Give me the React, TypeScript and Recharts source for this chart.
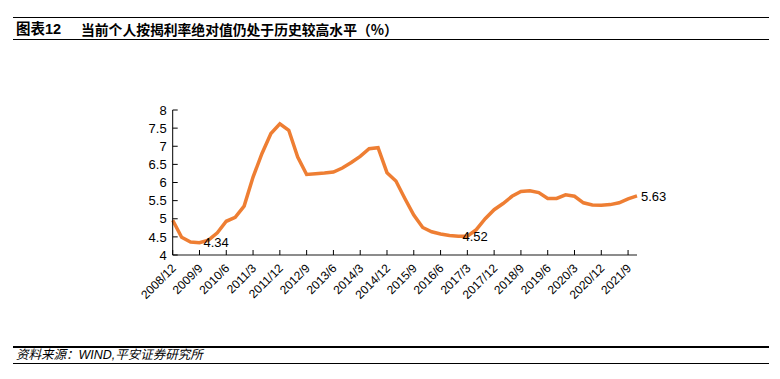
import React from 'react';
import { LineChart, Line, XAxis, YAxis, LabelList } from 'recharts';

const dates = [
  '2008/12',
  '2009/3', '2009/6', '2009/9', '2009/12',
  '2010/3', '2010/6', '2010/9', '2010/12',
  '2011/3', '2011/6', '2011/9', '2011/12',
  '2012/3', '2012/6', '2012/9', '2012/12',
  '2013/3', '2013/6', '2013/9', '2013/12',
  '2014/3', '2014/6', '2014/9', '2014/12',
  '2015/3', '2015/6', '2015/9', '2015/12',
  '2016/3', '2016/6', '2016/9', '2016/12',
  '2017/3', '2017/6', '2017/9', '2017/12',
  '2018/3', '2018/6', '2018/9', '2018/12',
  '2019/3', '2019/6', '2019/9', '2019/12',
  '2020/3', '2020/6', '2020/9', '2020/12',
  '2021/3', '2021/6', '2021/9', '2021/12',
];

const rates = [
  4.96,
  4.49, 4.36, 4.34, 4.41,
  4.61, 4.93, 5.04, 5.35,
  6.15, 6.8, 7.35, 7.62,
  7.44, 6.7, 6.22, 6.24,
  6.26, 6.29, 6.4, 6.55,
  6.72, 6.93, 6.96, 6.27,
  6.04, 5.56, 5.1, 4.76,
  4.64, 4.58, 4.54, 4.52,
  4.52, 4.7, 5.0, 5.25,
  5.42, 5.62, 5.75, 5.77,
  5.72, 5.56, 5.56, 5.66,
  5.62, 5.44, 5.38, 5.37,
  5.39, 5.44, 5.55, 5.63,
];

const yTicks = [4, 4.5, 5, 5.5, 6, 6.5, 7, 7.5, 8];
const labeledDates = ['2009/9', '2016/12', '2021/12'];

const titleNo = '图表12';
const titleText = '当前个人按揭利率绝对值仍处于历史较高水平（%）';
const sourceText = '资料来源：WIND,平安证券研究所';

const data = dates.map((d, i) => ({ date: d, rate: rates[i] }));

const LATIN = '"Liberation Sans", Arial, sans-serif';
const CJK = '"Liberation Sans", "Noto Sans CJK SC", sans-serif';

const XTick = (props: any) => {
  const { x, y, payload } = props;
  const ax = x + 4;
  const ay = y + 14;
  return (
    <g>
      <line x1={x} x2={x} y1={y - 5} y2={y} stroke="#000" strokeWidth={1} />
      <text
        x={ax}
        y={ay}
        textAnchor="end"
        fontSize={12}
        fontFamily={LATIN}
        fill="#000"
        transform={`rotate(-45 ${ax} ${ay})`}
      >
        {payload.value}
      </text>
    </g>
  );
};

const YTick = (props: any) => {
  const { x, y, payload } = props;
  return (
    <g>
      <line x1={x} x2={x + 5} y1={y} y2={y} stroke="#000" strokeWidth={1} />
      <text
        x={x - 6}
        y={y}
        dy="0.36em"
        textAnchor="end"
        fontSize={13}
        fontFamily={LATIN}
        fill="#000"
      >
        {payload.value}
      </text>
    </g>
  );
};

const PointLabel = (props: any) => {
  const { x, y, value, index } = props;
  if (index == null || !data[index] || !labeledDates.includes(data[index].date)) return null;
  return (
    <text x={x + 4} y={y} dy="0.36em" fontSize={13} fontFamily={LATIN} fill="#000">
      {value}
    </text>
  );
};

const hLine = (top: number) => (
  <div
    style={{
      position: 'absolute',
      left: 13,
      width: 756,
      top,
      height: 1.4,
      background: '#000',
    }}
  />
);

export default function App() {
  return (
    <div
      style={{
        position: 'absolute',
        left: 0,
        top: 0,
        width: 780,
        height: 379,
        background: '#fff',
        overflow: 'hidden',
      }}
    >
      {hLine(16.6)}
      <div
        style={{
          position: 'absolute',
          left: 16,
          top: 20,
          height: 18,
          lineHeight: '18px',
          fontSize: 14.5,
          fontWeight: 'bold',
          fontFamily: CJK,
          color: '#000',
          whiteSpace: 'nowrap',
        }}
      >
        {titleNo}
      </div>
      <div
        style={{
          position: 'absolute',
          left: 81,
          top: 20,
          height: 18,
          lineHeight: '18px',
          fontSize: 13.8,
          fontWeight: 'bold',
          fontFamily: '"Noto Sans CJK SC", sans-serif',
          color: '#000',
          whiteSpace: 'nowrap',
        }}
      >
        {titleText}
      </div>
      {hLine(39)}

      <div style={{ position: 'absolute', left: 0, top: 0 }}>
        <LineChart
          width={780}
          height={379}
          data={data}
          margin={{ top: 110, right: 143, bottom: 64, left: 112.7 }}
        >
          <XAxis
            dataKey="date"
            interval={2}
            tick={<XTick />}
            tickLine={false}
            tickSize={0}
            tickMargin={0}
            axisLine={{ stroke: '#8c8c8c', strokeWidth: 2 }}
            height={60}
          />
          <YAxis
            type="number"
            domain={[4, 8]}
            ticks={yTicks}
            interval={0}
            tick={<YTick />}
            tickLine={false}
            tickSize={0}
            tickMargin={0}
            axisLine={{ stroke: '#000', strokeWidth: 1 }}
            width={60}
          />
          <Line
            type="linear"
            dataKey="rate"
            stroke="#EE7E33"
            strokeWidth={3.5}
            dot={false}
            activeDot={false}
            isAnimationActive={false}
          >
            <LabelList dataKey="rate" content={<PointLabel />} />
          </Line>
        </LineChart>
      </div>

      {hLine(346.3)}
      <div
        style={{
          position: 'absolute',
          left: 16,
          top: 346.5,
          height: 17,
          lineHeight: '17px',
          fontSize: 12.5,
          fontStyle: 'italic',
          fontFamily: '"Liberation Sans", "Noto Sans CJK SC", sans-serif',
          color: '#000',
          whiteSpace: 'nowrap',
        }}
      >
        {sourceText}
      </div>
      {hLine(362.6)}
    </div>
  );
}
